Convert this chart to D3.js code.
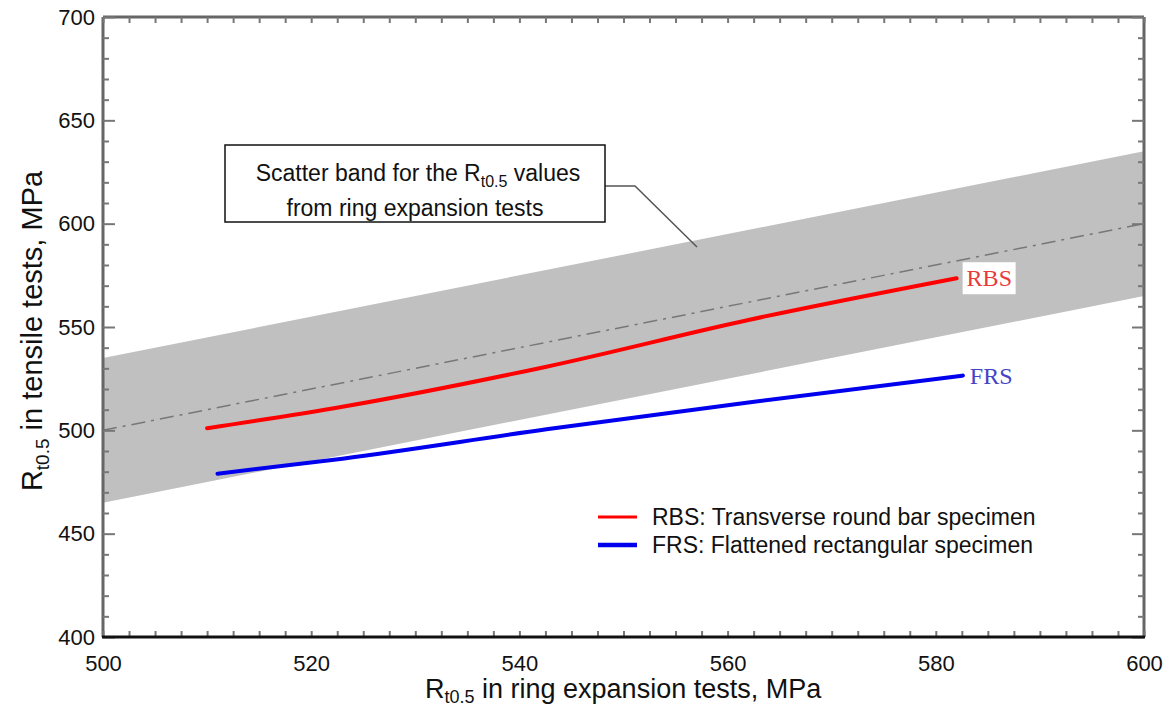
<!DOCTYPE html>
<html>
<head>
<meta charset="utf-8">
<script src="https://cdn.jsdelivr.net/npm/d3@7"></script>
<style>
  body { margin: 0; background: #fff; }
  svg { display: block; font-family: "Liberation Sans", Arial, sans-serif; }
</style>
</head>
<body>
<svg id="chart" width="1170" height="709"></svg>
<script>
// scatter band (ring expansion): lower / middle / upper limits
var bandX = [500, 600];
var bandLow = [465, 565];
var bandMid = [500, 600];
var bandHigh = [535, 635];

// RBS: transverse round bar specimen
var rbsX = [510, 523, 542.6, 562, 582];
var rbsY = [501, 511.4, 530.8, 553.4, 573.6];

// FRS: flattened rectangular specimen
var frsX = [511, 523, 542.6, 562, 582.6];
var frsY = [479, 486.3, 500.5, 513.5, 526.5];

var xTicks = [500, 520, 540, 560, 580, 600];
var yTicks = [400, 450, 500, 550, 600, 650, 700];

var svg = d3.select('#chart');
var mLeft = 103, mRight = 1144, mTop = 17, mBottom = 637;

var x = d3.scaleLinear().domain([500, 600]).range([mLeft, mRight]);
var y = d3.scaleLinear().domain([400, 700]).range([mBottom, mTop]);

// band
var band = bandX.map(function(v, i) { return {x: v, lo: bandLow[i], hi: bandHigh[i], mid: bandMid[i]}; });
svg.append('path')
  .datum(band)
  .attr('fill', '#c0c0c0')
  .attr('d', d3.area()
    .x(function(d) { return x(d.x); })
    .y0(function(d) { return y(d.lo); })
    .y1(function(d) { return y(d.hi); }));

svg.append('path')
  .datum(band)
  .attr('fill', 'none')
  .attr('stroke', '#777')
  .attr('stroke-width', 1.5)
  .attr('stroke-dasharray', '14,6,3,6')
  .attr('d', d3.line()
    .x(function(d) { return x(d.x); })
    .y(function(d) { return y(d.mid); }));

// specimen curves
function drawCurve(xs, ys, color, width) {
  var pts = xs.map(function(v, i) { return [v, ys[i]]; });
  svg.append('path')
    .datum(pts)
    .attr('fill', 'none')
    .attr('stroke', color)
    .attr('stroke-width', width)
    .attr('stroke-linecap', 'round')
    .attr('d', d3.line()
      .curve(d3.curveMonotoneX)
      .x(function(d) { return x(d[0]); })
      .y(function(d) { return y(d[1]); }));
}
drawCurve(rbsX, rbsY, '#ff0000', 4);
drawCurve(frsX, frsY, '#0000ee', 4);

// end labels
var rbsEnd = [rbsX[rbsX.length - 1], rbsY[rbsY.length - 1]];
var frsEnd = [frsX[frsX.length - 1], frsY[frsY.length - 1]];
svg.append('rect')
  .attr('x', x(rbsEnd[0]) + 6).attr('y', y(rbsEnd[1]) - 16)
  .attr('width', 53).attr('height', 32).attr('fill', '#fff');
svg.append('text')
  .attr('x', x(rbsEnd[0]) + 10).attr('y', y(rbsEnd[1]) + 8)
  .attr('font-family', '"Liberation Serif", "Times New Roman", serif')
  .attr('font-size', 24)
  .attr('fill', '#e83a3a').text('RBS');
svg.append('text')
  .attr('x', x(frsEnd[0]) + 7).attr('y', y(frsEnd[1]) + 8)
  .attr('font-family', '"Liberation Serif", "Times New Roman", serif')
  .attr('font-size', 24)
  .attr('fill', '#4444c4').text('FRS');

// frame
var frame = '#666';
svg.append('line').attr('x1', mLeft).attr('x2', mRight).attr('y1', mTop).attr('y2', mTop)
  .attr('stroke', frame).attr('stroke-width', 3);
svg.append('line').attr('x1', mLeft).attr('x2', mLeft).attr('y1', mTop).attr('y2', mBottom)
  .attr('stroke', frame).attr('stroke-width', 3);
svg.append('line').attr('x1', mRight).attr('x2', mRight).attr('y1', mTop).attr('y2', mBottom)
  .attr('stroke', frame).attr('stroke-width', 3);

// minor ticks via axes
var xMinor = d3.range(500, 600.1, 2.5);
var yMinor = d3.range(400, 700.1, 10);

function styleTicks(g) {
  g.select('.domain').remove();
  g.selectAll('line').attr('stroke', '#777').attr('stroke-width', 2);
}

svg.append('g')
  .attr('transform', 'translate(0,' + mBottom + ')')
  .call(d3.axisTop(x).tickValues(xMinor).tickSize(6).tickFormat(''))
  .call(styleTicks);
svg.append('g')
  .attr('transform', 'translate(0,' + mTop + ')')
  .call(d3.axisBottom(x).tickValues(xMinor).tickSize(6).tickFormat(''))
  .call(styleTicks);
svg.append('g')
  .attr('transform', 'translate(' + mLeft + ',0)')
  .call(d3.axisRight(y).tickValues(yMinor).tickSize(6).tickFormat(''))
  .call(styleTicks)
  .call(function(g) {
    g.selectAll('line').attr('x2', function(d) { return d % 50 === 0 ? 12 : 6; });
  });
svg.append('g')
  .attr('transform', 'translate(' + mRight + ',0)')
  .call(d3.axisLeft(y).tickValues(yMinor).tickSize(6).tickFormat(''))
  .call(styleTicks)
  .call(function(g) {
    g.selectAll('line').attr('x2', function(d) { return d % 50 === 0 ? -12 : -6; });
  });

// bottom axis line
svg.append('line').attr('x1', mLeft - 1).attr('x2', mRight + 1).attr('y1', mBottom).attr('y2', mBottom)
  .attr('stroke', '#111').attr('stroke-width', 3);

// tick labels
svg.append('g')
  .attr('transform', 'translate(0,' + mBottom + ')')
  .call(d3.axisBottom(x).tickValues(xTicks).tickSize(0).tickPadding(18))
  .call(function(g) {
    g.select('.domain').remove();
    g.selectAll('text').attr('font-size', 22).attr('fill', '#111')
      .attr('font-family', '"Liberation Sans", Arial, sans-serif');
  });
svg.append('g')
  .attr('transform', 'translate(' + mLeft + ',0)')
  .call(d3.axisLeft(y).tickValues(yTicks).tickSize(0).tickPadding(8))
  .call(function(g) {
    g.select('.domain').remove();
    g.selectAll('text').attr('font-size', 22).attr('fill', '#111')
      .attr('font-family', '"Liberation Sans", Arial, sans-serif');
  });

// axis titles
var xt = svg.append('text')
  .attr('x', 425).attr('y', 698)
  .attr('font-size', 27).attr('fill', '#111');
xt.append('tspan').text('R');
xt.append('tspan').attr('font-size', 18).attr('dy', 5).text('t0.5');
xt.append('tspan').attr('dy', -5).text(' in ring expansion tests, MPa');

var yt = svg.append('text')
  .attr('transform', 'translate(42,331) rotate(-90)')
  .attr('text-anchor', 'middle')
  .attr('font-size', 29).attr('fill', '#111');
yt.append('tspan').text('R');
yt.append('tspan').attr('font-size', 19).attr('dy', 7).text('t0.5');
yt.append('tspan').attr('dy', -7).text(' in tensile tests, MPa');

// annotation box and leader
svg.append('path')
  .attr('d', 'M605,186 L635,186 L697,247')
  .attr('fill', 'none').attr('stroke', '#555').attr('stroke-width', 1.5);
svg.append('rect')
  .attr('x', 225).attr('y', 145).attr('width', 380).attr('height', 77)
  .attr('fill', '#fff').attr('stroke', '#111').attr('stroke-width', 1.5);
var a1 = svg.append('text').attr('x', 418).attr('y', 181)
  .attr('text-anchor', 'middle').attr('font-size', 23).attr('fill', '#111');
a1.append('tspan').text('Scatter band for the R');
a1.append('tspan').attr('font-size', 16).attr('dy', 6).text('t0.5');
a1.append('tspan').attr('dy', -6).text(' values');
svg.append('text').attr('x', 415).attr('y', 216)
  .attr('text-anchor', 'middle').attr('font-size', 23).attr('fill', '#111')
  .text('from ring expansion tests');

// legend
var legend = [
  {label: 'RBS: Transverse round bar specimen', color: '#ff0000', w: 3},
  {label: 'FRS: Flattened rectangular specimen', color: '#0000ee', w: 4.5}
];
legend.forEach(function(l, i) {
  var ly = 517 + i * 28;
  svg.append('line').attr('x1', 598).attr('x2', 637).attr('y1', ly).attr('y2', ly)
    .attr('stroke', l.color).attr('stroke-width', l.w);
  svg.append('text').attr('x', 652).attr('y', ly + 8)
    .attr('font-size', 23).attr('fill', '#111').text(l.label);
});
</script>
</body>
</html>
